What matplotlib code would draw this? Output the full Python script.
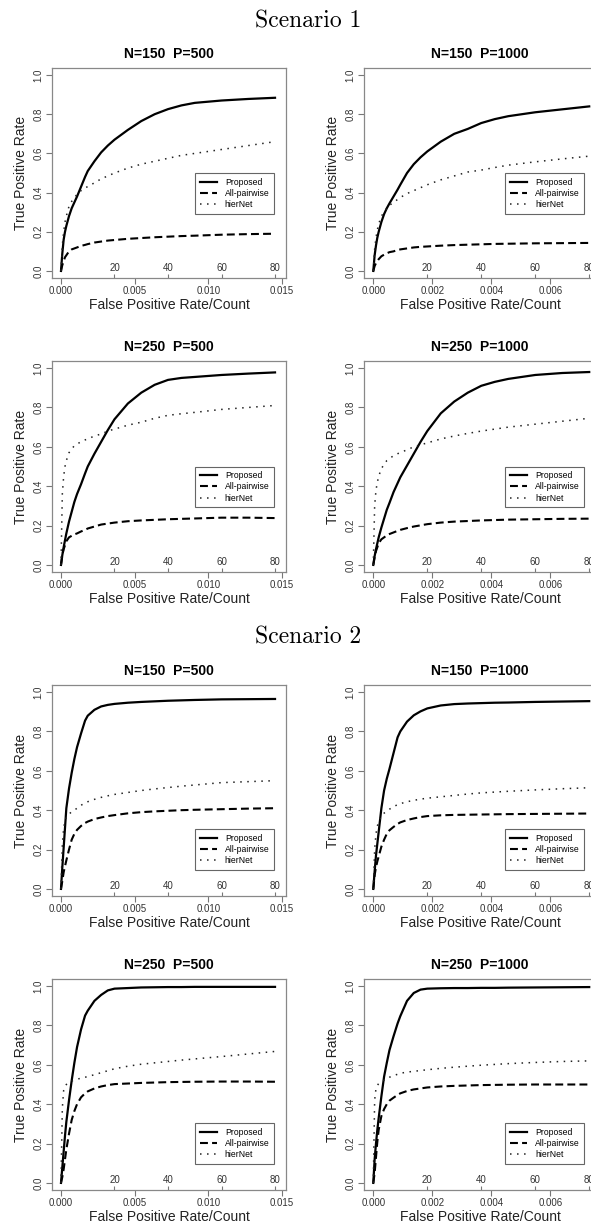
import numpy as np
import matplotlib
matplotlib.use("Agg")
import matplotlib.pyplot as plt

plt.rcParams['font.family'] = ['Liberation Sans', 'DejaVu Sans']

##### false positive counts at which the curves were read
counts = [0, 0.5, 1, 1.5, 2, 3, 4, 5, 6, 7.5, 9, 10, 12.5, 15, 17.5, 20, 25, 30, 35, 40, 45, 50, 60, 70, 80]

##### false positive rate per false positive count
fpr_per_count = {500: 0.014525 / 80, 1000: 0.00732 / 80}

##### Scenario 1, true positive rates
s1_n150_p500_proposed = [0, 0.09, 0.16, 0.2, 0.23, 0.28, 0.32, 0.35, 0.38, 0.43, 0.48, 0.51, 0.56, 0.605, 0.64, 0.67, 0.72, 0.765, 0.8, 0.826, 0.845, 0.858, 0.87, 0.878, 0.884]
s1_n150_p500_pairwise = [0, 0.03, 0.05, 0.07, 0.08, 0.1, 0.11, 0.115, 0.12, 0.128, 0.133, 0.137, 0.145, 0.15, 0.155, 0.158, 0.164, 0.168, 0.172, 0.175, 0.178, 0.18, 0.185, 0.188, 0.19]
s1_n150_p500_hiernet = [0, 0.13, 0.2, 0.25, 0.28, 0.33, 0.355, 0.375, 0.39, 0.41, 0.425, 0.43, 0.45, 0.47, 0.485, 0.5, 0.525, 0.545, 0.56, 0.575, 0.59, 0.6, 0.62, 0.64, 0.66]

s1_n150_p1000_proposed = [0, 0.08, 0.13, 0.17, 0.2, 0.25, 0.29, 0.32, 0.345, 0.38, 0.415, 0.44, 0.5, 0.545, 0.58, 0.61, 0.66, 0.70, 0.725, 0.755, 0.775, 0.79, 0.81, 0.825, 0.84]
s1_n150_p1000_pairwise = [0, 0.025, 0.04, 0.05, 0.06, 0.075, 0.083, 0.09, 0.096, 0.1, 0.107, 0.11, 0.115, 0.12, 0.123, 0.125, 0.129, 0.132, 0.134, 0.136, 0.138, 0.139, 0.141, 0.142, 0.143]
s1_n150_p1000_hiernet = [0, 0.11, 0.17, 0.21, 0.24, 0.28, 0.3, 0.32, 0.335, 0.35, 0.365, 0.375, 0.395, 0.41, 0.425, 0.44, 0.465, 0.485, 0.505, 0.515, 0.528, 0.54, 0.557, 0.572, 0.586]

s1_n250_p500_proposed = [0, 0.05, 0.09, 0.125, 0.16, 0.22, 0.27, 0.32, 0.36, 0.41, 0.465, 0.5, 0.565, 0.625, 0.685, 0.74, 0.82, 0.875, 0.915, 0.94, 0.95, 0.955, 0.965, 0.972, 0.978]
s1_n250_p500_pairwise = [0, 0.05, 0.08, 0.1, 0.12, 0.14, 0.148, 0.155, 0.16, 0.17, 0.178, 0.185, 0.195, 0.205, 0.21, 0.215, 0.222, 0.226, 0.229, 0.232, 0.234, 0.236, 0.24, 0.24, 0.238]
s1_n250_p500_hiernet = [0, 0.36, 0.45, 0.5, 0.53, 0.57, 0.59, 0.605, 0.615, 0.625, 0.635, 0.64, 0.655, 0.665, 0.68, 0.69, 0.71, 0.725, 0.745, 0.76, 0.768, 0.775, 0.79, 0.80, 0.81]

s1_n250_p1000_proposed = [0, 0.045, 0.08, 0.11, 0.14, 0.19, 0.235, 0.28, 0.315, 0.37, 0.415, 0.445, 0.505, 0.565, 0.625, 0.68, 0.77, 0.83, 0.875, 0.91, 0.93, 0.945, 0.965, 0.975, 0.98]
s1_n250_p1000_pairwise = [0, 0.04, 0.07, 0.09, 0.11, 0.13, 0.14, 0.15, 0.157, 0.165, 0.173, 0.178, 0.187, 0.195, 0.201, 0.207, 0.215, 0.22, 0.223, 0.226, 0.228, 0.23, 0.232, 0.234, 0.235]
s1_n250_p1000_hiernet = [0, 0.3, 0.38, 0.42, 0.45, 0.49, 0.51, 0.53, 0.54, 0.555, 0.565, 0.57, 0.585, 0.6, 0.61, 0.62, 0.64, 0.655, 0.668, 0.68, 0.69, 0.70, 0.715, 0.73, 0.745]

##### Scenario 2, true positive rates
s2_n150_p500_proposed = [0, 0.11, 0.21, 0.31, 0.41, 0.51, 0.59, 0.66, 0.72, 0.79, 0.855, 0.88, 0.91, 0.927, 0.935, 0.94, 0.946, 0.95, 0.953, 0.956, 0.958, 0.96, 0.963, 0.964, 0.965]
s2_n150_p500_pairwise = [0, 0.04, 0.085, 0.115, 0.145, 0.2, 0.25, 0.28, 0.3, 0.32, 0.335, 0.342, 0.355, 0.363, 0.37, 0.375, 0.384, 0.39, 0.394, 0.397, 0.4, 0.402, 0.405, 0.408, 0.41]
s2_n150_p500_hiernet = [0, 0.22, 0.31, 0.345, 0.365, 0.38, 0.392, 0.4, 0.41, 0.425, 0.437, 0.443, 0.455, 0.465, 0.473, 0.48, 0.49, 0.5, 0.508, 0.515, 0.522, 0.528, 0.54, 0.545, 0.55]

s2_n150_p1000_proposed = [0, 0.09, 0.17, 0.23, 0.29, 0.41, 0.5, 0.56, 0.61, 0.69, 0.77, 0.8, 0.85, 0.882, 0.902, 0.917, 0.932, 0.939, 0.942, 0.944, 0.946, 0.947, 0.95, 0.952, 0.954]
s2_n150_p1000_pairwise = [0, 0.07, 0.11, 0.14, 0.165, 0.215, 0.25, 0.28, 0.298, 0.315, 0.33, 0.338, 0.35, 0.358, 0.365, 0.37, 0.374, 0.376, 0.377, 0.378, 0.379, 0.38, 0.381, 0.382, 0.383]
s2_n150_p1000_hiernet = [0, 0.2, 0.28, 0.32, 0.34, 0.37, 0.385, 0.395, 0.405, 0.418, 0.428, 0.433, 0.443, 0.45, 0.456, 0.461, 0.468, 0.475, 0.482, 0.488, 0.492, 0.496, 0.503, 0.509, 0.514]

s2_n250_p500_proposed = [0, 0.08, 0.16, 0.24, 0.31, 0.42, 0.52, 0.61, 0.69, 0.78, 0.85, 0.875, 0.925, 0.955, 0.978, 0.987, 0.99, 0.993, 0.994, 0.995, 0.995, 0.996, 0.996, 0.996, 0.996]
s2_n250_p500_pairwise = [0, 0.03, 0.07, 0.12, 0.17, 0.25, 0.32, 0.365, 0.4, 0.435, 0.455, 0.465, 0.48, 0.49, 0.497, 0.502, 0.505, 0.508, 0.51, 0.512, 0.513, 0.514, 0.515, 0.515, 0.514]
s2_n250_p500_hiernet = [0, 0.38, 0.47, 0.49, 0.5, 0.51, 0.518, 0.523, 0.527, 0.532, 0.537, 0.54, 0.55, 0.56, 0.57, 0.58, 0.593, 0.603, 0.61, 0.617, 0.624, 0.63, 0.642, 0.655, 0.668]

s2_n250_p1000_proposed = [0, 0.12, 0.2, 0.27, 0.33, 0.44, 0.54, 0.61, 0.675, 0.745, 0.81, 0.847, 0.925, 0.965, 0.982, 0.987, 0.989, 0.99, 0.99, 0.991, 0.991, 0.992, 0.993, 0.994, 0.995]
s2_n250_p1000_pairwise = [0, 0.05, 0.13, 0.21, 0.27, 0.34, 0.375, 0.4, 0.418, 0.433, 0.447, 0.455, 0.467, 0.475, 0.48, 0.485, 0.49, 0.493, 0.495, 0.497, 0.498, 0.499, 0.5, 0.5, 0.5]
s2_n250_p1000_hiernet = [0, 0.42, 0.48, 0.495, 0.505, 0.515, 0.522, 0.53, 0.537, 0.545, 0.552, 0.557, 0.563, 0.567, 0.571, 0.575, 0.582, 0.588, 0.593, 0.598, 0.602, 0.606, 0.612, 0.617, 0.62]

##### (row, col, N, P, proposed, all-pairwise, hierNet)
panels = [
    (0, 0, 150, 500, s1_n150_p500_proposed, s1_n150_p500_pairwise, s1_n150_p500_hiernet),
    (0, 1, 150, 1000, s1_n150_p1000_proposed, s1_n150_p1000_pairwise, s1_n150_p1000_hiernet),
    (1, 0, 250, 500, s1_n250_p500_proposed, s1_n250_p500_pairwise, s1_n250_p500_hiernet),
    (1, 1, 250, 1000, s1_n250_p1000_proposed, s1_n250_p1000_pairwise, s1_n250_p1000_hiernet),
    (2, 0, 150, 500, s2_n150_p500_proposed, s2_n150_p500_pairwise, s2_n150_p500_hiernet),
    (2, 1, 150, 1000, s2_n150_p1000_proposed, s2_n150_p1000_pairwise, s2_n150_p1000_hiernet),
    (3, 0, 250, 500, s2_n250_p500_proposed, s2_n250_p500_pairwise, s2_n250_p500_hiernet),
    (3, 1, 250, 1000, s2_n250_p1000_proposed, s2_n250_p1000_pairwise, s2_n250_p1000_hiernet),
]

count_ticks = [20, 40, 60, 80]
xticks = {500: [0.0, 0.005, 0.010, 0.015], 1000: [0.0, 0.002, 0.004, 0.006]}
xlims = {500: (-0.00061, 0.01527), 1000: (-0.000315, 0.00755)}

W, H = 591.0, 1229.0
row_top = [68, 361, 685, 979]
row_bottom = [278, 572, 896, 1190]
col_left = [52, 364]
col_right = [286, 596]
legend_top = [0.5, 0.5, 0.318, 0.318]

fig = plt.figure(figsize=(W / 100, H / 100), dpi=100)

for row, col, N, P, prop, pair, hier in panels:
    l, r = col_left[col], col_right[col]
    t, b = row_top[row], row_bottom[row]
    ax = fig.add_axes([l / W, 1 - b / H, (r - l) / W, (b - t) / H])
    fpc = fpr_per_count[P]
    x = np.array(counts) * fpc
    ax.plot(x, prop, color='black', lw=1.6, solid_joinstyle='round', label='Proposed')
    ax.plot(x, pair, color='black', lw=1.5, linestyle=(0, (3.8, 2.0)), label='All-pairwise')
    ax.plot(x, hier, color='#222222', lw=1.1, linestyle=(0, (1.0, 3.6)), label='hierNet')

    ax.set_xlim(xlims[P])
    ax.set_ylim(-0.036, 1.036)
    ax.set_xticks(xticks[P])
    ax.set_xticklabels(['%.3f' % v for v in xticks[P]])
    ax.set_yticks([0.0, 0.2, 0.4, 0.6, 0.8, 1.0])
    ax.set_yticklabels(['%.1f' % v for v in [0.0, 0.2, 0.4, 0.6, 0.8, 1.0]], rotation=90, va='center')
    ax.tick_params(direction='out', length=4, width=0.8, colors='#777777', labelcolor='#333333',
                   labelsize=7, pad=2)
    for sp in ax.spines.values():
        sp.set_color('#888888')
        sp.set_linewidth(0.9)

    ##### inner axis with false positive counts
    sec = ax.secondary_xaxis('bottom', functions=(lambda v, f=fpc: v / f, lambda v, f=fpc: v * f))
    sec.set_xticks(count_ticks)
    sec.set_xticklabels([str(c) for c in count_ticks])
    sec.tick_params(direction='in', length=3, width=0.8, colors='#777777', labelcolor='#333333',
                    labelsize=7, pad=-10.5)
    sec.spines['bottom'].set_visible(False)

    ax.set_title('N=%d  P=%d' % (N, P), fontsize=10, fontweight='bold', pad=7)
    ax.set_xlabel('False Positive Rate/Count', fontsize=10, color='#222222')
    ax.set_ylabel('True Positive Rate', fontsize=10, color='#222222')
    ax.xaxis.set_label_coords(0.5, -20.0 / (b - t))
    ax.yaxis.set_label_coords(-24.0 / (r - l), 0.5)

    leg = ax.legend(loc='upper right', bbox_to_anchor=(0.95, legend_top[row]), borderaxespad=0,
                    fontsize=6.2, handlelength=2.0, handletextpad=0.9, labelspacing=0.25,
                    borderpad=0.55, fancybox=False, framealpha=1)
    leg.get_frame().set_edgecolor('#666666')
    leg.get_frame().set_linewidth(0.8)

fig.text(308 / W, 1 - 21 / H, 'Scenario 1', ha='center', va='center', fontfamily='cmr10', fontsize=17)
fig.text(308 / W, 1 - 637 / H, 'Scenario 2', ha='center', va='center', fontfamily='cmr10', fontsize=17)

plt.savefig('out.png', dpi=100)
